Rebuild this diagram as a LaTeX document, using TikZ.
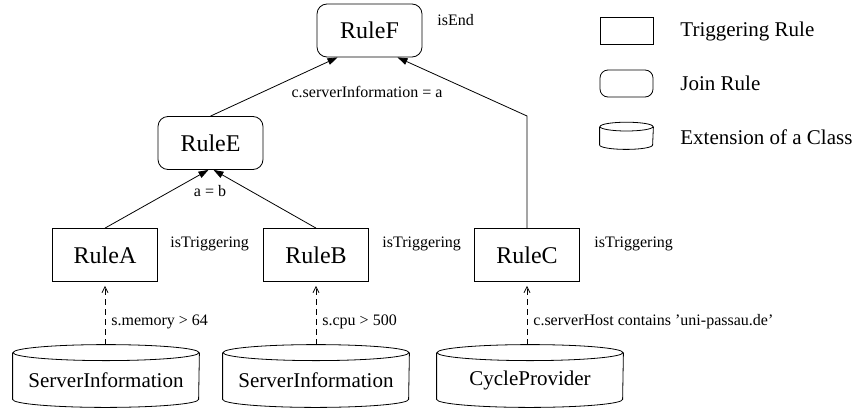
\documentclass[tikz,border=0pt]{standalone}
\usepackage{fontspec}
\setmainfont{Liberation Serif}
\usepackage{tikz}
\usetikzlibrary{arrows.meta,calc,positioning}

\tikzset{
    trigrule/.style = {draw, minimum width=52.5pt, minimum height=26.5pt, font=\fontsize{12}{14}\selectfont},
    joinrule/.style = {trigrule, rounded corners=5pt},
    extcls/.style   = {minimum width=93pt, minimum height=27pt, inner sep=0pt, font=\fontsize{10.5}{12}\selectfont},
    lbl/.style      = {font=\fontsize{8}{9.5}\selectfont, inner sep=1pt},
    legtxt/.style   = {anchor=west, inner sep=0pt, font=\fontsize{10.5}{12}\selectfont},
    dep/.style      = {-{Triangle[length=5pt,width=3.4pt]}},
    src/.style      = {dashed, dash pattern=on 3pt off 2pt, -{Straight Barb[length=3pt,width=3pt]}, shorten >=2pt}
}
%% cylinder drawn round a named node: name, x radius, y radius
\newcommand{\drawext}[3]{%
    \draw (#1.north west) -- ([yshift=#3]#1.south west)
        arc[start angle=180, end angle=360, x radius=#2, y radius=#3] -- (#1.north east);
    \draw (#1.north) ellipse[x radius=#2, y radius=#3];
}

\begin{document}
\begin{tikzpicture}[x=0.5pt, y=-0.5pt]
    \useasboundingbox (0,0) rectangle (854,412);
    %%Rules
    \node[joinrule] (ruleF) at (369.5,30.5) {RuleF};
    \node[joinrule] (ruleE) at (210.5,143) {RuleE};
    \node[trigrule] (ruleA) at (105,255) {RuleA};
    \node[trigrule] (ruleB) at (316,255) {RuleB};
    \node[trigrule] (ruleC) at (527,255) {RuleC};
    \node[lbl, anchor=west] (endF) at (435,20) {isEnd};
    \node[lbl, anchor=west] (trigA) at (168,244) {isTriggering};
    \node[lbl, anchor=west] (trigB) at (380,244) {isTriggering};
    \node[lbl, anchor=west] (trigC) at (592,244) {isTriggering};
    %%Classes
    \node[extcls] (srvA) at (106,380) {ServerInformation};
    \node[extcls] (srvB) at (316,380) {ServerInformation};
    \node[extcls] (cycC) at (530,380) {CycleProvider};
    \drawext{srvA}{46.5pt}{4pt}
    \drawext{srvB}{46.5pt}{4pt}
    \drawext{cycC}{46.5pt}{4pt}
    %%Joins
    \coordinate (bendC) at (527,116);
    \draw[dep] (ruleE.north) -- ([xshift=-16pt]ruleF.south);
    \draw[dep] (ruleC.north) -- (bendC) -- ([xshift=14pt]ruleF.south);
    \draw[dep] (ruleA.north) -- ([xshift=-1pt]ruleE.south);
    \draw[dep] (ruleB.north) -- ([xshift=1.5pt]ruleE.south);
    \node[lbl] (joinEF) at (367,92) {c.serverInformation = a};
    \node[lbl] (joinAB) at (210,191) {a = b};
    %%Sources
    \draw[src] ([yshift=4pt]srvA.north -| ruleA.south) -- (ruleA.south)
        node[lbl, pos=0.36, right=2pt] (condA) {s.memory > 64};
    \draw[src] ([yshift=4pt]srvB.north -| ruleB.south) -- (ruleB.south)
        node[lbl, pos=0.36, right=2pt] (condB) {s.cpu > 500};
    \draw[src] ([yshift=4pt]cycC.north -| ruleC.south) -- (ruleC.south)
        node[lbl, pos=0.36, right=2pt] (condC) {c.serverHost contains 'uni-passau.de'};
    %%Legend
    \node[draw, minimum width=26.5pt, minimum height=13.5pt] (legTrig) at (626.5,30.5) {};
    \node[draw, rounded corners=4pt, minimum width=26.5pt, minimum height=13.5pt] (legJoin) at (626.5,83.5) {};
    \node[minimum width=26.5pt, minimum height=11pt, inner sep=0pt] (legExt) at (626.5,138) {};
    \drawext{legExt}{13.25pt}{2.2pt}
    \node[legtxt] (legTrigTxt) at (680,31) {Triggering Rule};
    \node[legtxt] (legJoinTxt) at (680,83) {Join Rule};
    \node[legtxt] (legExtTxt) at (680,137) {Extension of a Class};
\end{tikzpicture}
\end{document}
